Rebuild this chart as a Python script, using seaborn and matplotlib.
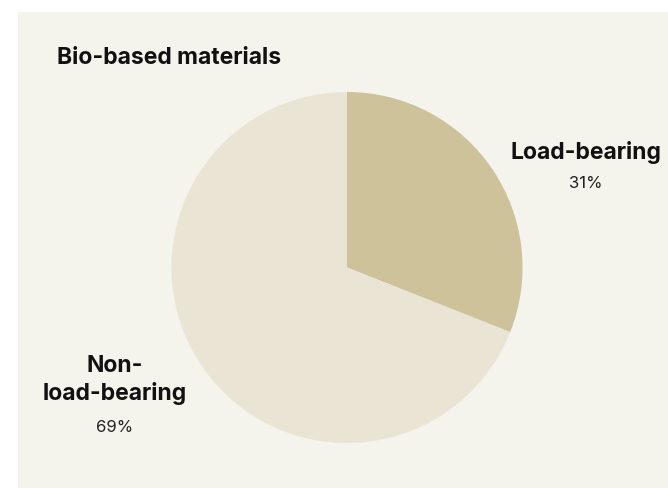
import matplotlib
matplotlib.use("Agg")
import matplotlib.pyplot as plt
import seaborn as sns
from matplotlib.patches import Rectangle

sns.set_theme(style="white")
plt.rcParams['font.family'] = ['Inter', 'DejaVu Sans']

title = "Bio-based materials"
categories = ["Load-bearing", "Non-\nload-bearing"]
values = [31, 69]
colors = ["#cdc29a", "#eae4d5"]

W, H = 668, 488
fig = plt.figure(figsize=(W / 100, H / 100), dpi=100)
fig.patch.set_facecolor("white")
fig.patches.append(Rectangle((18 / W, 0), 1 - 18 / W, 1 - 12 / H, transform=fig.transFigure,
                             facecolor="#f4f3ec", edgecolor="none", zorder=-5))

cx, cy, r = 347, 267.5, 175.5
ax = fig.add_axes([(cx - r) / W, (H - cy - r) / H, 2 * r / W, 2 * r / H])
ax.set_zorder(2)
ax.pie(values, colors=colors, startangle=90, counterclock=False, radius=1,
       wedgeprops=dict(linewidth=0))
ax.set_xlim(-1, 1)
ax.set_ylim(-1, 1)
ax.axis("off")

fig.text(57 / W, 1 - 58 / H, title, fontsize=16.5, fontweight="bold", ha="left", va="center",
         color="#111111", zorder=5)

label_pos = [(586, 152, 183), (115, 380, 428)]
for cat, v, (x, y, yp) in zip(categories, values, label_pos):
    fig.text(x / W, 1 - y / H, cat, fontsize=16.5, fontweight="bold", ha="center", va="center",
             color="#111111", linespacing=1.3, zorder=5)
    fig.text(x / W, 1 - yp / H, f"{v}%", fontsize=12, ha="center", va="center", color="#222222",
             zorder=5)

fig.savefig("out.png", dpi=100)
